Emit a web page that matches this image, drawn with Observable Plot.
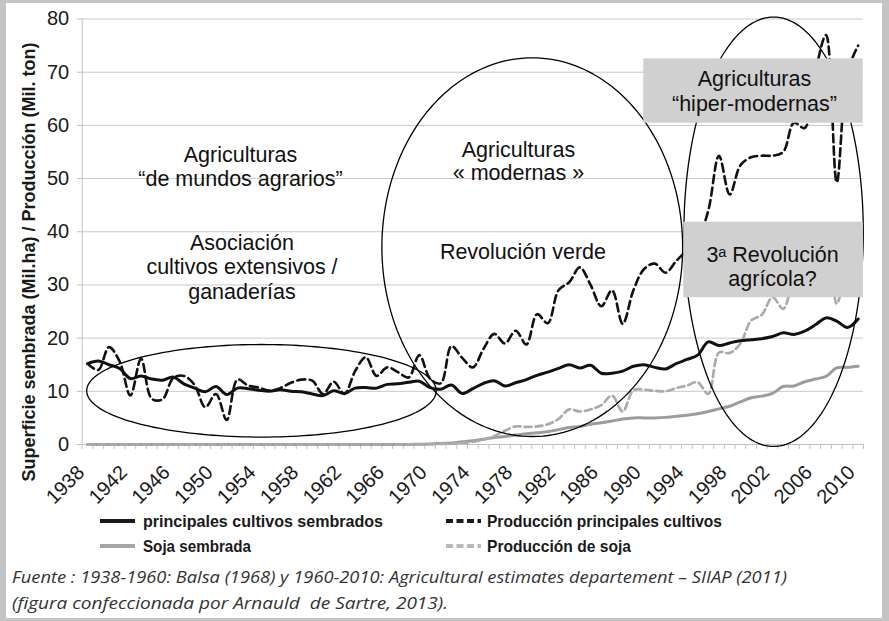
<!DOCTYPE html>
<html><head><meta charset="utf-8">
<script src="https://cdn.jsdelivr.net/npm/d3@7"></script>
<script src="https://cdn.jsdelivr.net/npm/@observablehq/plot@0.6"></script>
<style>
html,body{margin:0;padding:0;background:#fff;}
#frame{position:relative;width:889px;height:621px;box-sizing:border-box;border-style:solid;border-color:#c4c4c4;border-width:3px 7px 3px 6px;background:#fff;overflow:hidden;}
#chart{position:absolute;left:0;top:0;}
#below{position:absolute;left:0;top:500px;}
</style>
</head><body>
<div id="frame"><div id="chart"></div><div id="below"></div></div>
<script>
const years = [1938,1939,1940,1941,1942,1943,1944,1945,1946,1947,
1948,1949,1950,1951,1952,1953,1954,1955,1956,1957,
1958,1959,1960,1961,1962,1963,1964,1965,1966,1967,
1968,1969,1970,1971,1972,1973,1974,1975,1976,1977,
1978,1979,1980,1981,1982,1983,1984,1985,1986,1987,
1988,1989,1990,1991,1992,1993,1994,1995,1996,1997,
1998,1999,2000,2001,2002,2003,2004,2005,2006,2007,
2008,2009,2010];

const cultivosSembrados = [15.2,15.7,15.0,14.3,12.4,12.9,12.3,12.1,12.7,11.4,
10.6,9.9,10.9,9.4,10.6,10.5,10.2,10.0,10.3,10.0,
9.9,9.5,9.2,10.1,9.6,10.6,10.7,10.6,11.3,11.4,
11.7,11.9,10.7,10.4,11.2,9.6,10.5,11.5,12.0,11.0,
11.6,12.2,13.0,13.6,14.3,15.0,14.4,14.9,13.4,13.4,
13.8,14.7,15.0,14.5,14.2,15.2,16.0,16.8,19.3,18.6,
19.1,19.5,19.7,19.9,20.3,21.0,20.7,21.3,22.5,23.8,
23.2,22.0,23.6];

const produccionCultivos = [15.2,14.0,18.3,15.6,9.2,16.1,8.6,8.5,12.5,12.9,
11.2,7.0,9.5,4.6,12.2,11.1,10.7,10.1,10.6,11.6,
12.2,12.0,9.5,11.8,9.5,13.8,16.4,12.9,14.5,13.6,
12.6,16.8,12.4,11.5,18.5,16.3,14.5,18.0,20.8,19.0,
21.4,18.8,24.5,22.8,29.0,30.5,33.3,30.0,26.0,29.0,
22.7,29.0,33.0,34.0,32.3,34.5,36.5,38.5,44.0,54.3,
47.0,52.5,54.0,54.3,54.3,55.0,60.5,59.5,70.0,77.0,
49.3,70.0,75.0];

const sojaSembrada = [0,0,0,0,0,0,0,0,0,0,
0,0,0,0,0,0,0,0,0,0,
0,0,0,0,0,0,0,0,0,0,
0,0.05,0.1,0.2,0.3,0.5,0.7,1.0,1.3,1.5,
1.8,2.0,2.2,2.4,2.8,3.2,3.4,3.8,4.1,4.4,
4.8,5.0,5.0,5.0,5.1,5.3,5.5,5.8,6.2,6.7,
7.2,8.0,8.8,9.1,9.6,10.9,11.0,11.8,12.3,12.8,
14.4,14.5,14.7];

const produccionSoja = [0,0,0,0,0,0,0,0,0,0,
0,0,0,0,0,0,0,0,0,0,
0,0,0,0,0,0,0,0,0,0,
0,0,0.05,0.1,0.2,0.3,0.5,0.9,1.6,2.6,
3.4,3.3,3.4,3.8,4.8,6.6,6.2,6.6,7.4,9.2,
6.2,10.2,10.3,10.1,10.0,10.6,11.1,11.7,9.5,17.3,
17.2,19.0,23.3,24.4,27.7,25.5,31.0,33.0,35.0,37.0,
26.5,35.0,41.0];

const yTicks = [0,10,20,30,40,50,60,70,80];
const xTickLabels = [1938,1942,1946,1950,1954,1958,1962,1966,1970,1974,1978,1982,1986,1990,1994,1998,2002,2006,2010];

const seriesNames = ["principales cultivos sembrados","Producción principales cultivos","Soja sembrada","Producción de soja"];
const yAxisLabel = "Superficie sembrada (Mil.ha) / Producción (Mil. ton)";
const captionLines = ["Fuente : 1938-1960: Balsa (1968) y 1960-2010: Agricultural estimates departement – SIIAP (2011)",
  "(figura confeccionada por Arnauld  de Sartre, 2013)."];

// annotation shapes (data units)
const ellipses = [
  {id: "e1", cx: 1954.25, cy: 10.1, rx: 16.33, ry: 8.7},
  {id: "e2", cx: 1979.55, cy: 37.1, rx: 14.05, ry: 35.6},
  {id: "e3", cx: 2002.1, cy: 40.0, rx: 8.38, ry: 40.37}
];
const boxes = [
  {x1: 1989.97, x2: 2010.47, y1: 60.4, y2: 72.5},
  {x1: 1993.71, x2: 2010.5, y1: 27.6, y2: 41.8}
];
const annoA = [
  {x: 1952.29, y: 52.27, text: "Agriculturas\n“de mundos agrarios”"},
  {x: 1978.26, y: 53.25, text: "Agriculturas\n« modernas »"},
  {x: 1978.68, y: 36.32, text: "Revolución verde"},
  {x: 2002.0, y: 33.5, text: "3ᵃ Revolución\nagrícola?"}
];
const annoB = [
  {x: 1952.43, y: 33.47, text: "Asociación\ncultivos extensivos /\nganaderías"},
  {x: 2000.31, y: 66.56, text: "Agriculturas\n“hiper-modernas”"}
];

const rows = arr => years.map((year, i) => ({year, value: arr[i]}));
const boundaries = [1937.5, ...years.map(y => y + 0.5)];
const ellPts = ellipses.flatMap(e => d3.range(0, 361, 2).map(a => ({
  id: e.id, x: e.cx + e.rx * Math.cos(a * Math.PI / 180), y: e.cy + e.ry * Math.sin(a * Math.PI / 180)
})));

const font = '"Liberation Sans", Arial, Helvetica, sans-serif';

const chart = Plot.plot({
  width: 876, height: 500,
  marginLeft: 75.7, marginRight: 19, marginTop: 15.5, marginBottom: 59,
  x: {domain: [1937.5, 2010.5], axis: null},
  y: {domain: [0, 80], axis: null},
  style: {fontFamily: font, fontSize: "20px", color: "#1a1a1a", background: "transparent", overflow: "visible"},
  marks: [
    Plot.gridY(yTicks.filter(d => d > 0), {stroke: "#c8c8c8", strokeOpacity: 1}),
    Plot.axisY(yTicks, {anchor: "left", tickSize: 5, tickPadding: 8, stroke: "#c0c0c0", fill: "#1a1a1a", fontSize: 20, label: null, tickFormat: d => String(d)}),
    Plot.ruleX([1937.5], {stroke: "#c0c0c0"}),
    Plot.ruleY([0], {stroke: "#c0c0c0"}),
    Plot.axisX(boundaries, {anchor: "bottom", tickSize: 5, tickFormat: () => "", stroke: "#c0c0c0", label: null}),
    Plot.text(xTickLabels, {x: d => d, y: 0, text: d => String(d), rotate: -45, textAnchor: "end", lineAnchor: "top", dx: -12, dy: 19.1, fontSize: 20, fill: "#1a1a1a"}),
    Plot.line(rows(sojaSembrada), {x: "year", y: "value", stroke: "#9c9c9c", strokeWidth: 3, curve: "catmull-rom"}),
    Plot.line(rows(produccionSoja), {x: "year", y: "value", stroke: "#ababab", strokeWidth: 2.7, strokeDasharray: "7,4", curve: "catmull-rom"}),
    Plot.line(rows(cultivosSembrados), {x: "year", y: "value", stroke: "#111", strokeWidth: 3, curve: "catmull-rom"}),
    Plot.line(rows(produccionCultivos), {x: "year", y: "value", stroke: "#111", strokeWidth: 2.6, strokeDasharray: "8,4.5", curve: "catmull-rom"}),
    Plot.line(ellPts, {x: "x", y: "y", z: "id", stroke: "#000", strokeWidth: 1.3, curve: "linear"}),
    Plot.rect(boxes, {x1: "x1", x2: "x2", y1: "y1", y2: "y2", fill: "#d0d0d0"}),
    Plot.text(annoA, {x: "x", y: "y", text: "text", fontSize: 21.5, lineHeight: 1.09, textAnchor: "middle", fill: "#111"}),
    Plot.text(annoB, {x: "x", y: "y", text: "text", fontSize: 21.5, lineHeight: 1.15, textAnchor: "middle", fill: "#111"}),
    Plot.text([yAxisLabel], {text: d => d, frameAnchor: "left", dx: -53, dy: 30.25, rotate: -90, textAnchor: "middle", fontSize: 18, fontWeight: "bold", fill: "#1a1a1a"})
  ]
});
document.getElementById("chart").appendChild(chart);

// legend + caption below the chart
const below = d3.create("svg").attr("width", 876).attr("height", 115).style("overflow", "visible");
const legendItems = [
  {name: seriesNames[0], lx: 94, ly: 18, color: "#1a1a1a", dash: null, tx: 137, tl: 240},
  {name: seriesNames[1], lx: 440, ly: 18, color: "#1a1a1a", dash: "7,3.5", tx: 481, tl: 235},
  {name: seriesNames[2], lx: 94, ly: 43, color: "#a6a6a6", dash: null, tx: 137, tl: 108},
  {name: seriesNames[3], lx: 440, ly: 43, color: "#b9b9b9", dash: "7,3.5", tx: 481, tl: 144}
];
for (const it of legendItems) {
  below.append("line").attr("x1", it.lx).attr("x2", it.lx + 35).attr("y1", it.ly).attr("y2", it.ly)
    .attr("stroke", it.color).attr("stroke-width", 4).attr("stroke-dasharray", it.dash);
  below.append("text").attr("x", it.tx).attr("y", it.ly).attr("dy", "0.36em")
    .attr("font-family", font).attr("font-weight", "bold").attr("font-size", 17)
    .attr("fill", "#1a1a1a").attr("textLength", it.tl).attr("lengthAdjust", "spacingAndGlyphs").text(it.name);
}
const capY = [74, 100], capL = [775, 436];
captionLines.forEach((t, i) => {
  below.append("text").attr("x", 6).attr("y", capY[i]).attr("dy", "0.36em")
    .attr("font-family", '"Open Sans", "Noto Sans", sans-serif').attr("font-style", "italic").attr("font-size", 16)
    .attr("fill", "#333").style("white-space", "pre")
    .attr("textLength", capL[i]).attr("lengthAdjust", "spacingAndGlyphs").text(t);
});
document.getElementById("below").appendChild(below.node());
</script>
</body></html>
